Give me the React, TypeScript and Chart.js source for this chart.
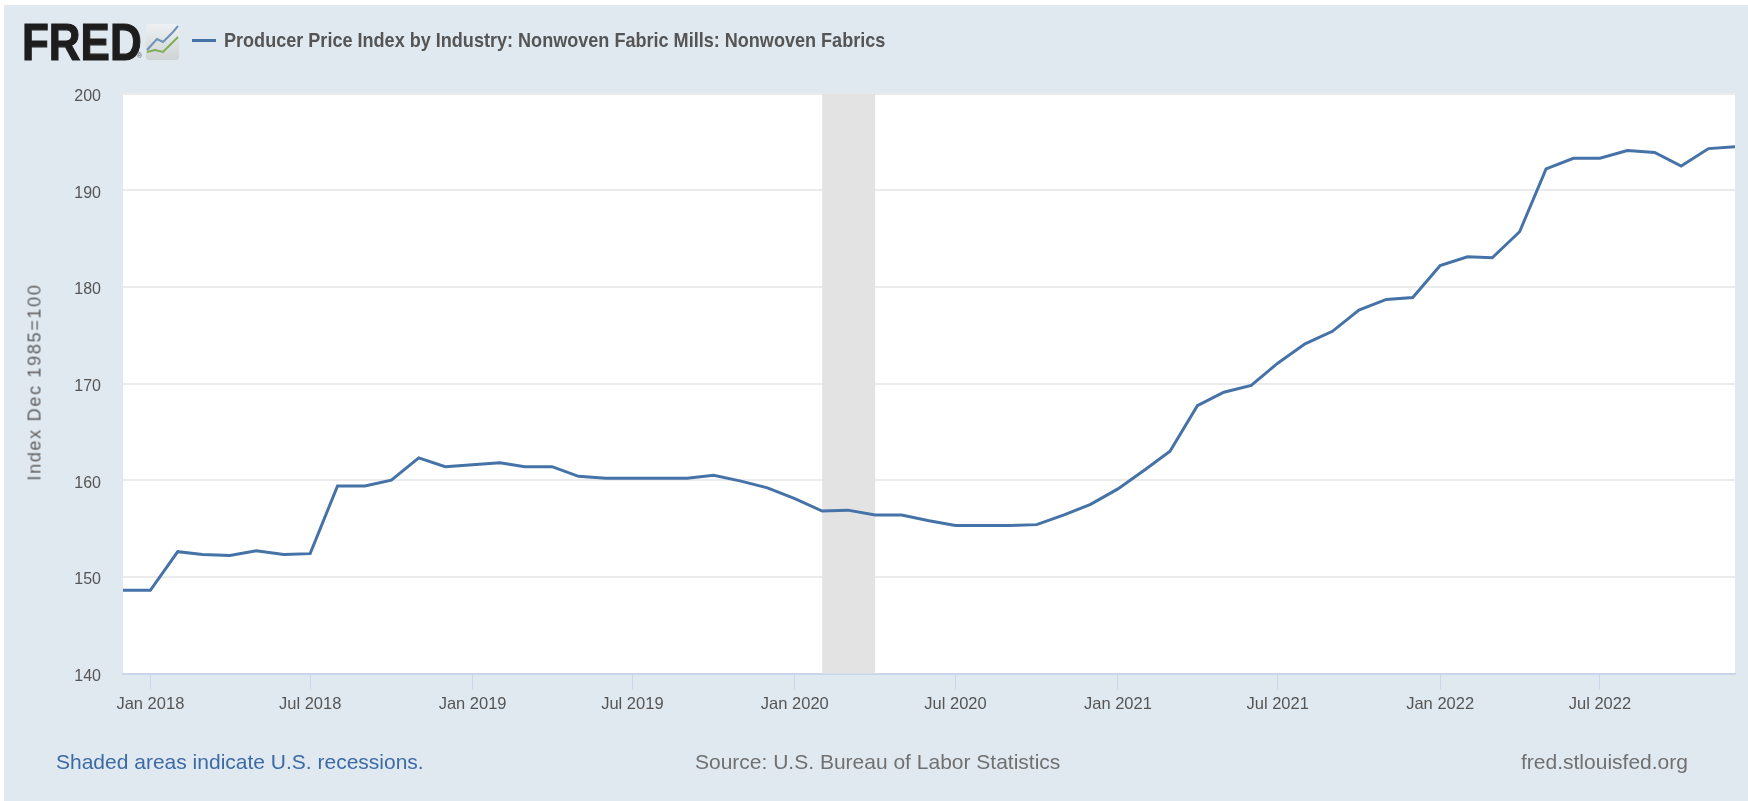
import React, { useEffect, useRef } from "react";
import { Chart, registerables } from "chart.js";

Chart.register(...registerables);

const startYear = 2017;
const startMonth = 11; // December 2017 (0-based month)
const values = [
  148.6,
  148.6, 152.6, 152.3, 152.2, 152.7, 152.3, 152.4, 159.4, 159.4, 160.0, 162.3, 161.4,
  161.6, 161.8, 161.4, 161.4, 160.4, 160.2, 160.2, 160.2, 160.2, 160.5, 159.9, 159.2,
  158.1, 156.8, 156.9, 156.4, 156.4, 155.8, 155.3, 155.3, 155.3, 155.4, 156.4, 157.5,
  159.1, 161.1, 163.0, 167.7, 169.1, 169.8, 172.1, 174.1, 175.4, 177.6, 178.7, 178.9,
  182.2, 183.1, 183.0, 185.7, 192.2, 193.3, 193.3, 194.1, 193.9, 192.5, 194.3, 194.5,
];
const xTickDates: [number, number, string][] = [
  [2018, 0, "Jan 2018"], [2018, 6, "Jul 2018"],
  [2019, 0, "Jan 2019"], [2019, 6, "Jul 2019"],
  [2020, 0, "Jan 2020"], [2020, 6, "Jul 2020"],
  [2021, 0, "Jan 2021"], [2021, 6, "Jul 2021"],
  [2022, 0, "Jan 2022"], [2022, 6, "Jul 2022"],
];
const recession: [number, number][] = [[2020, 1], [2020, 3]];
const yTicks = [140, 150, 160, 170, 180, 190, 200];
const yTitle = "Index Dec 1985=100";
const seriesName = "Producer Price Index by Industry: Nonwoven Fabric Mills: Nonwoven Fabrics";

const SANS = '"Liberation Sans", sans-serif';
const day = (y: number, m: number) => Date.UTC(y, m, 1) / 86400000;
const points = values.map((v, i) => ({ x: day(startYear, startMonth + i), y: v }));

const PLOT = { left: 123, right: 1735, top: 93.5, bottom: 673.5 };

const recessionBand = {
  id: "recessionBand",
  beforeDatasetsDraw(chart: any) {
    const { ctx, chartArea, scales } = chart;
    const x0 = scales.x.getPixelForValue(day(recession[0][0], recession[0][1]));
    const x1 = scales.x.getPixelForValue(day(recession[1][0], recession[1][1]));
    ctx.save();
    ctx.fillStyle = "#e3e3e3";
    ctx.fillRect(x0, chartArea.top, x1 - x0, chartArea.bottom - chartArea.top);
    ctx.restore();
  },
};

const plotBackground = {
  id: "plotBackground",
  beforeDraw(chart: any) {
    const { ctx, chartArea } = chart;
    ctx.save();
    ctx.fillStyle = "#ffffff";
    ctx.fillRect(chartArea.left, chartArea.top, chartArea.right - chartArea.left, chartArea.bottom - chartArea.top);
    ctx.restore();
  },
};

function label(text: string, left: number, top: number, style: React.CSSProperties = {}) {
  return (
    <div style={{ position: "absolute", left, top, whiteSpace: "nowrap", fontFamily: SANS, transformOrigin: "left", ...style }}>{text}</div>
  );
}

export default function App() {
  const ref = useRef<HTMLCanvasElement>(null);
  useEffect(() => {
    document.body.style.margin = "0";
    document.body.style.background = "#ffffff";
    const chart = new Chart(ref.current!, {
      type: "line",
      data: {
        datasets: [
          {
            label: seriesName,
            data: points,
            borderColor: "#4572a7",
            borderWidth: 3,
            pointRadius: 0,
            tension: 0,
            fill: false,
          },
        ],
      },
      plugins: [plotBackground, recessionBand],
      options: {
        animation: false,
        responsive: false,
        parsing: false,
        layout: { padding: { left: 21, right: 1744 - (PLOT.right - 4), top: PLOT.top - 5, bottom: 0 } },
        plugins: { legend: { display: false }, tooltip: { enabled: false } },
        scales: {
          x: {
            type: "linear",
            min: points[0].x,
            max: points[points.length - 1].x,
            afterBuildTicks(scale: any) {
              scale.ticks = xTickDates.map(([y, m]) => ({ value: day(y, m) }));
            },
            afterFit(scale: any) {
              scale.height = 796 - (PLOT.bottom - 5);
            },
            ticks: {
              autoSkip: false,
              maxRotation: 0,
              padding: 5,
              color: "#555555",
              font: { family: SANS, size: 16.5 },
              callback(v: any) {
                const t = xTickDates.find(([y, m]) => day(y, m) === v);
                return t ? t[2] : "";
              },
            },
            grid: { drawOnChartArea: false, drawTicks: true, tickLength: 16, tickColor: "#ccd6eb", tickWidth: 1 },
            border: { color: "#ccd6eb", width: 2 },
          },
          y: {
            min: 140,
            max: 200,
            afterBuildTicks(scale: any) {
              scale.ticks = yTicks.map((value) => ({ value }));
            },
            afterFit(scale: any) {
              scale.width = PLOT.left - 25;
            },
            ticks: {
              padding: 22,
              labelOffset: 3,
              color: "#555555",
              font: { family: SANS, size: 16 },
            },
            grid: { color: "#ebebeb", lineWidth: 2, drawTicks: false },
            border: { display: false },
          },
        },
      },
    } as any);
    return () => chart.destroy();
  }, []);

  return (
    <div style={{ position: "relative", width: 1748, height: 801, overflow: "hidden", background: "#ffffff" }}>
      <div style={{ position: "absolute", left: 4, top: 5, width: 1744, height: 796, background: "#e1e9f0" }} />
      <canvas ref={ref} width={1744} height={796} style={{ position: "absolute", left: 4, top: 5, display: "block" }} />
      {label("FRED", 22, 12, { fontWeight: 700, fontSize: 52, lineHeight: "60px", color: "#1d1d1d", transform: "scaleX(0.845)", WebkitTextStroke: "1.2px #1d1d1d" })}
      {label("®", 137, 52, { fontSize: 7, lineHeight: "8px", color: "#555555" })}
      <svg width={36} height={40} style={{ position: "absolute", left: 145, top: 23 }}>
        <defs>
          <linearGradient id="iconBg" x1="0" y1="0" x2="0" y2="1">
            <stop offset="0" stopColor="#eef1f3" />
            <stop offset="1" stopColor="#cfd3d3" />
          </linearGradient>
        </defs>
        <rect x={1} y={1} width={33} height={36} rx={3} fill="url(#iconBg)" />
        <polyline points="2,27 12,16 18,19 28,9 33,3" fill="none" stroke="#6d93b8" strokeWidth={2} />
        <polyline points="2,29 10,27 18,29 27,20 33,14" fill="none" stroke="#7fae55" strokeWidth={2} />
      </svg>
      <div style={{ position: "absolute", left: 192, top: 39, width: 24, height: 3, background: "#4572a7" }} />
      {label(seriesName, 224, 28, { fontWeight: 700, fontSize: 21, lineHeight: "24px", color: "#555555", transform: "scaleX(0.86)" })}
      <div
        style={{
          position: "absolute",
          left: 35,
          top: 382,
          whiteSpace: "nowrap",
          fontFamily: SANS,
          fontSize: 18,
          letterSpacing: "1.7px",
          color: "#5e5e5e",
          transform: "translate(-50%, -50%) rotate(-90deg)",
        }}
      >
        {yTitle}
      </div>
      {label("Shaded areas indicate U.S. recessions.", 56, 750, { fontSize: 21, lineHeight: "24px", color: "#3c6aa5" })}
      {label("Source: U.S. Bureau of Labor Statistics", 695, 750, { fontSize: 21, lineHeight: "24px", color: "#707070" })}
      {label("fred.stlouisfed.org", 1521, 750, { fontSize: 21, lineHeight: "24px", color: "#707070" })}
    </div>
  );
}
